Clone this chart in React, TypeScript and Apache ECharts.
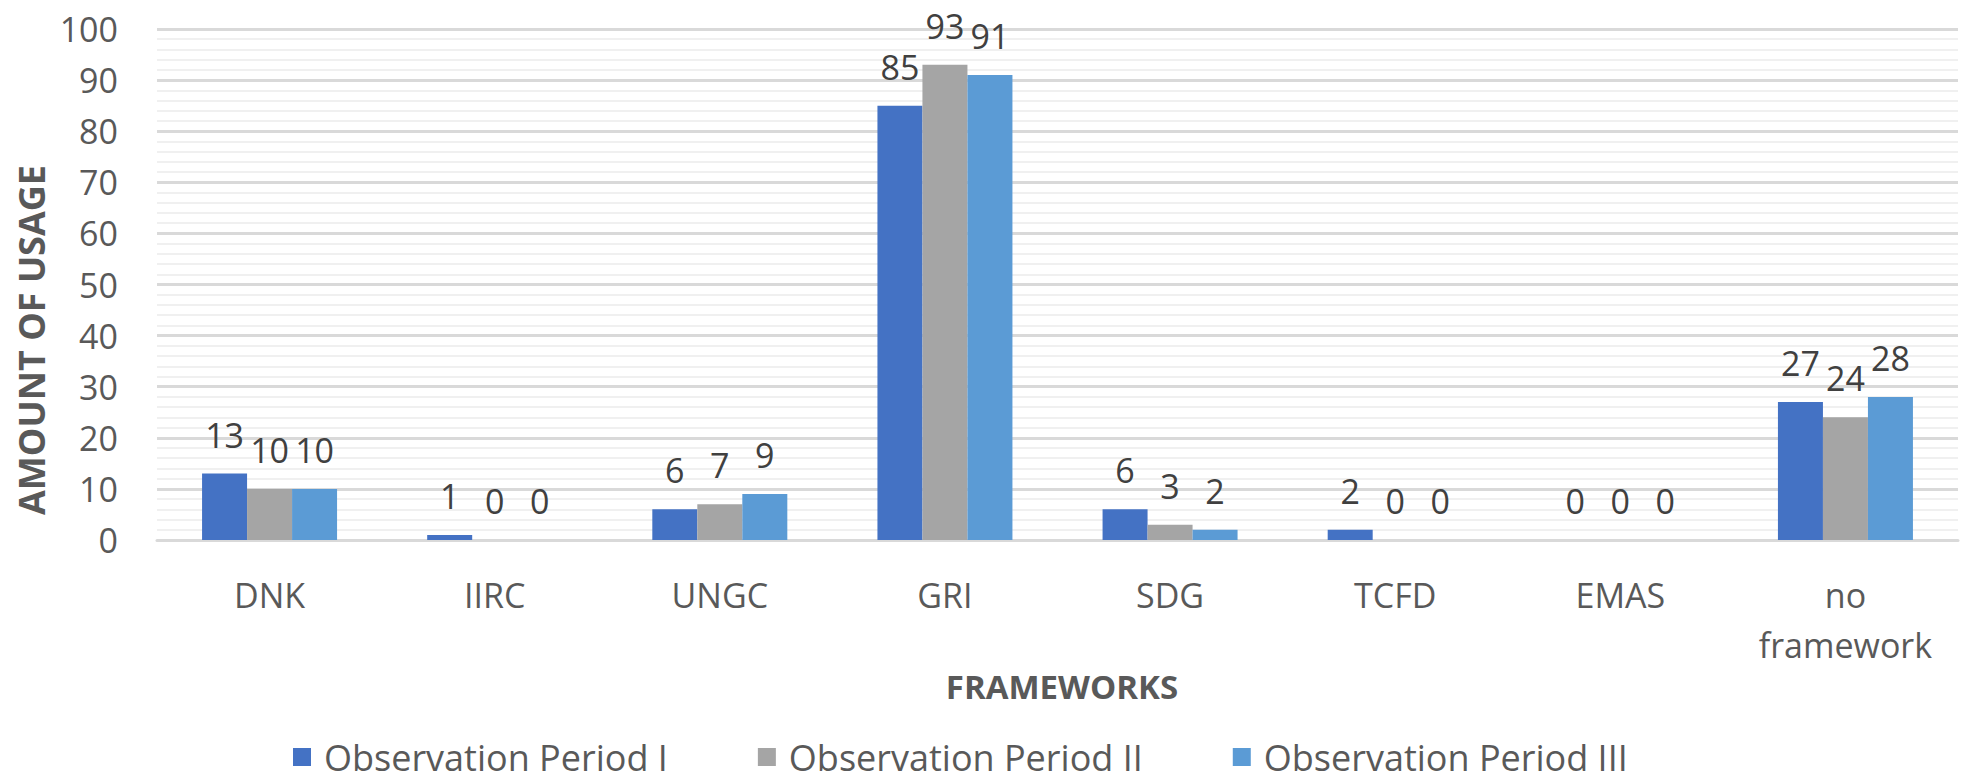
import React, { useEffect, useRef } from "react";
import * as echarts from "echarts";

const categories = ["DNK", "IIRC", "UNGC", "GRI", "SDG", "TCFD", "EMAS", "no\nframework"];
const seriesNames = ["Observation Period I", "Observation Period II", "Observation Period III"];
const period1 = [13, 1, 6, 85, 6, 2, 0, 27];
const period2 = [10, 0, 7, 93, 3, 0, 0, 24];
const period3 = [10, 0, 9, 91, 2, 0, 0, 28];
const colors = ["#4472C4", "#A5A5A5", "#5B9BD5"];
const yTicks = { min: 0, max: 100, interval: 10 };

const FONT = "'Open Sans', 'Noto Sans', sans-serif";

export default function App() {
  const ref = useRef<HTMLDivElement>(null);
  useEffect(() => {
    if (!ref.current) return;
    const chart = echarts.init(ref.current, null, { renderer: "svg" });
    const data = [period1, period2, period3];
    chart.setOption({
      animation: false,
      backgroundColor: "#ffffff",
      grid: { left: 157, right: 3, top: 29, bottom: 242, containLabel: false },
      legend: {
        left: 288,
        top: 734,
        itemWidth: 18,
        itemHeight: 18,
        itemGap: 90,
        icon: "rect",
        textStyle: { fontFamily: FONT, fontSize: 36, color: "#595959", padding: [0, 0, 0, 8] },
        data: seriesNames,
      },
      xAxis: {
        type: "category",
        data: categories,
        axisLine: { show: true, lineStyle: { color: "#d9d9d9", width: 3 } },
        axisTick: { show: false },
        axisLabel: {
          fontFamily: FONT,
          fontSize: 34,
          color: "#595959",
          margin: 30,
          lineHeight: 50,
          interval: 0,
        },
      },
      yAxis: {
        type: "value",
        min: yTicks.min,
        max: yTicks.max,
        interval: yTicks.interval,
        axisLine: { show: false },
        axisTick: { show: false },
        axisLabel: { fontFamily: FONT, fontSize: 34, color: "#595959", margin: 39 },
        splitLine: { show: true, lineStyle: { color: "#d9d9d9", width: 3 } },
        minorTick: { show: false, splitNumber: 5 },
        minorSplitLine: { show: true, lineStyle: { color: "#f0f0f0", width: 2 } },
      },
      series: seriesNames.map((name, i) => ({
        name,
        type: "bar",
        data: data[i],
        barWidth: 45,
        barGap: "0%",
        itemStyle: { color: colors[i] },
        label: {
          show: true,
          position: "top",
          distance: 22,
          fontFamily: FONT,
          fontSize: 34,
          color: "#404040",
        },
      })),
      graphic: [
        {
          type: "text",
          x: 1062,
          y: 686,
          style: {
            text: "FRAMEWORKS",
            fontFamily: FONT,
            fontSize: 33,
            fontWeight: "bold",
            fill: "#595959",
            align: "center",
            verticalAlign: "middle",
          },
        },
        {
          type: "text",
          x: 31,
          y: 340,
          rotation: Math.PI / 2,
          style: {
            text: "AMOUNT OF USAGE",
            fontFamily: FONT,
            fontSize: 36,
            fontWeight: "bold",
            fill: "#595959",
            align: "center",
            verticalAlign: "middle",
          },
        },
      ],
    });
    return () => chart.dispose();
  }, []);
  return (
    <div
      ref={ref}
      style={{ position: "fixed", left: 0, top: 0, width: 1961, height: 782 }}
    />
  );
}
